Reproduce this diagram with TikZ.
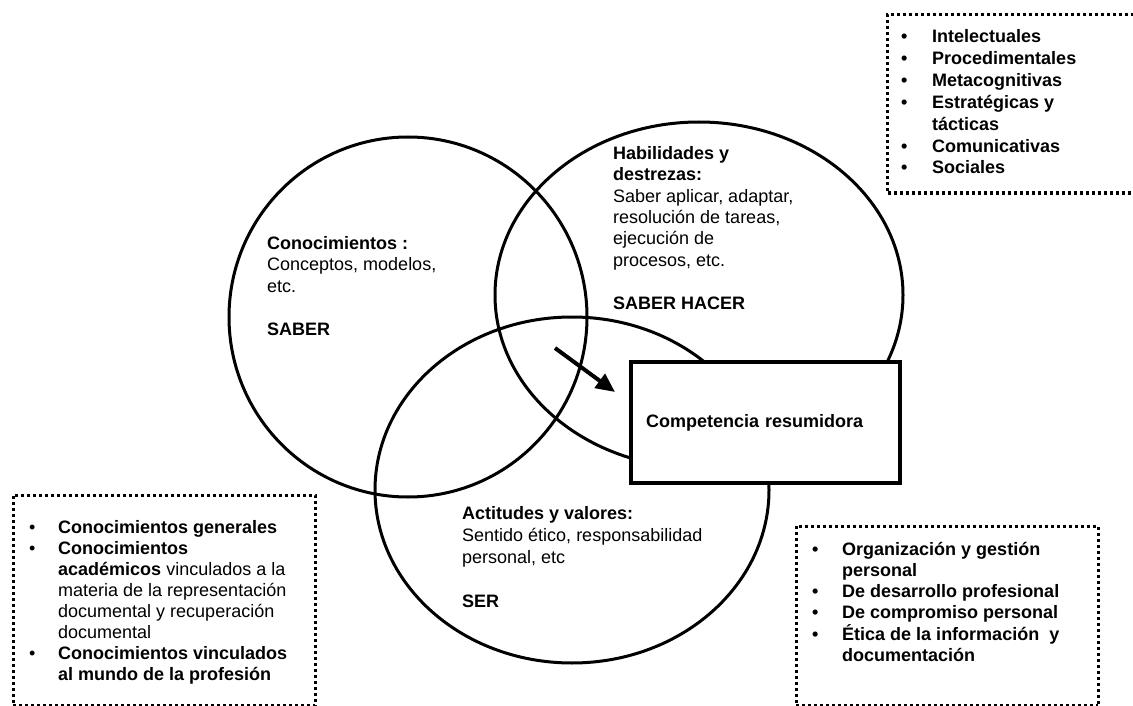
\documentclass[tikz,border=0pt]{standalone}
\usepackage{fontspec}
\setmainfont{Liberation Sans}
\usetikzlibrary{shapes.geometric,arrows.meta}
\begin{document}
\begin{tikzpicture}[x=1pt,y=-1pt,
  venn/.style={draw, ellipse, line width=3pt, inner sep=0pt},
  txt/.style={anchor=base west, align=left, inner sep=0pt, font=\fontsize{18pt}{21.6pt}\selectfont},
  dotbox/.style={line width=3pt, dash pattern=on 3pt off 3pt, line cap=butt},
  compbox/.style={draw, rectangle, line width=4.5pt, fill=white, inner xsep=15pt, inner ysep=0pt,
     text width=239pt, minimum height=121pt, align=left, font=\fontsize{18pt}{21pt}\selectfont\bfseries},
  bigarrow/.style={line width=4pt, -{Triangle[length=19pt,width=17pt]}}
]
\useasboundingbox (0,0) rectangle (1133,706);
\clip (0,0) rectangle (1133,706);
\fill[white] (0,0) rectangle (1133,706);

% Venn ellipses
\node[venn, minimum width=358pt, minimum height=360pt] (saber) at (408,317) {};
\node[venn, minimum width=408pt, minimum height=346pt] (hacer) at (699,295) {};
\node[venn, minimum width=394pt, minimum height=346pt] (ser) at (572,490) {};

% texts inside ellipses (anchor = baseline of last line)
\node[txt, font=\fontsize{18pt}{21.5pt}\selectfont] (tsaber) at (267,335) {\textbf{Conocimientos :}\\Conceptos, modelos,\\etc.\\\mbox{}\\\textbf{SABER}};
\node[txt, font=\fontsize{18pt}{21.4pt}\selectfont] (thacer) at (613,309) {\textbf{Habilidades y}\\\textbf{destrezas:}\\Saber aplicar, adaptar,\\resolución de tareas,\\ejecución de\\procesos, etc.\\\mbox{}\\\textbf{SABER HACER}};
\node[txt, font=\fontsize{18pt}{21.9pt}\selectfont] (tser) at (462,607.5) {\textbf{Actitudes y valores:}\\Sentido ético, responsabilidad\\personal, etc\\\mbox{}\\\textbf{SER}};

% central box and arrow
\node[compbox] (comp) at (765.5,422.5) {Competencia resumidora};
\coordinate (a1) at (555,348);
\coordinate (a2) at (615,392);
\draw[bigarrow] (a1) -- (a2);

% dotted boxes
\draw[dotbox] (1140,15) -- (887,15) -- (887,193) -- (1140,193);
\draw[dotbox] (13,715) -- (13,495) -- (315,495) -- (315,715);
\draw[dotbox] (13,705) -- (315,705);
\draw[dotbox] (796,715) -- (796,526) -- (1098,526) -- (1098,715);
\draw[dotbox] (796,705) -- (1098,705);

% lists
\node[txt, font=\fontsize{18pt}{21.9pt}\selectfont\bfseries] (ltr) at (901,174) {%
\makebox[31pt][l]{•}Intelectuales\\
\makebox[31pt][l]{•}Procedimentales\\
\makebox[31pt][l]{•}Metacognitivas\\
\makebox[31pt][l]{•}Estratégicas y\\
\makebox[31pt][l]{}tácticas\\
\makebox[31pt][l]{•}Comunicativas\\
\makebox[31pt][l]{•}Sociales};

\node[txt, font=\fontsize{18pt}{21pt}\selectfont] (lbl) at (29,680) {%
\makebox[29pt][l]{•}\textbf{Conocimientos generales}\\
\makebox[29pt][l]{•}\textbf{Conocimientos}\\
\makebox[29pt][l]{}\textbf{académicos} vinculados a la\\
\makebox[29pt][l]{}materia de la representación\\
\makebox[29pt][l]{}documental y recuperación\\
\makebox[29pt][l]{}documental\\
\makebox[29pt][l]{•}\textbf{Conocimientos vinculados}\\
\makebox[29pt][l]{}\textbf{al mundo de la profesión}};

\node[txt, font=\fontsize{18pt}{21.3pt}\selectfont\bfseries] (lbr) at (812,661.5) {%
\makebox[30pt][l]{•}Organización y gestión\\
\makebox[30pt][l]{}personal\\
\makebox[30pt][l]{•}De desarrollo profesional\\
\makebox[30pt][l]{•}De compromiso personal\\
\makebox[30pt][l]{•}Ética de la información\ \ y\\
\makebox[30pt][l]{}documentación};
\end{tikzpicture}
\end{document}
